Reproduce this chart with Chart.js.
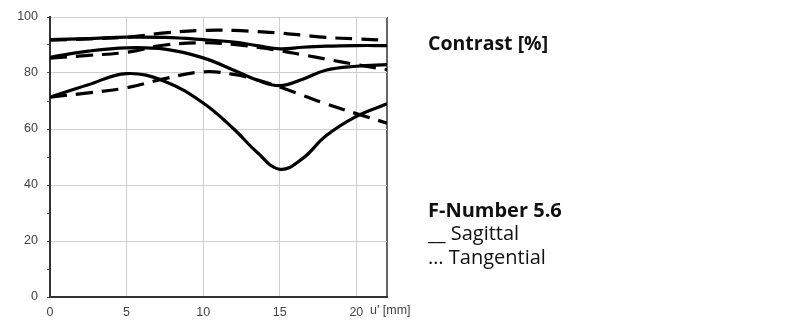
<!DOCTYPE html>
<html>
<head>
<meta charset="utf-8">
<script src="https://cdn.jsdelivr.net/npm/chart.js@4"></script>
<style>
  body { margin: 0; background: #fff; }
  #wrap { position: relative; width: 800px; height: 334px; }
  .txt { position: absolute; font-family: "Open Sans", sans-serif; color: #111; white-space: nowrap; line-height: normal; }
  .b { font-weight: bold; }
</style>
</head>
<body>
<div id="wrap">
  <canvas id="myChart" width="800" height="334"></canvas>
  <div class="txt" style="left:370px;top:303px;font-family:'Liberation Sans',Arial,sans-serif;font-size:12.5px;color:#444;">u' [mm]</div>
  <div class="txt b" style="left:428px;top:29px;font-size:19.5px;">Contrast [%]</div>
  <div class="txt b" style="left:428px;top:196px;font-size:20px;">F-Number 5.6</div>
  <div class="txt" style="left:428px;top:219px;font-size:20px;">__ Sagittal</div>
  <div class="txt" style="left:428px;top:243px;font-size:20px;">… Tangential</div>
</div>
<script>
// datos (u' en mm, contraste en %)
const posiciones = [0, 2.5, 5, 7.5, 10, 12, 13.5, 15, 16.5, 18, 20, 22];

const sagital10 = [91.9, 92.3, 92.8, 92.7, 91.9, 91.0, 89.8, 88.6, 89.2, 89.6, 89.8, 89.8];
const sagital20 = [85.6, 87.8, 89.0, 88.5, 85.4, 81.0, 77.5, 75.5, 77.8, 81.0, 82.4, 83.0];
const sagital40 = [71.4, 75.8, 79.8, 77.0, 69.3, 60.0, 51.8, 45.6, 49.5, 57.5, 64.5, 69.0];

const tangencial10 = [91.7, 92.2, 92.8, 94.3, 95.2, 95.2, 94.8, 94.3, 93.5, 92.7, 92.2, 91.7];
const tangencial20 = [85.3, 86.3, 87.4, 90.0, 90.8, 90.2, 89.2, 88.0, 86.5, 85.0, 83.0, 81.2];
const tangencial40 = [71.4, 72.9, 74.7, 78.0, 80.4, 79.5, 77.6, 75.0, 72.0, 69.0, 65.5, 62.1];

const ticksX = [0, 5, 10, 15, 20];
const ticksY = [0, 20, 40, 60, 80, 100];

function serie(valores, discontinua) {
  return {
    data: valores.map((v, i) => ({ x: posiciones[i], y: v })),
    borderColor: "#000",
    borderWidth: 3.2,
    borderDash: discontinua ? [17, 9] : [],
    pointRadius: 0,
    tension: 0.4,
    fill: false,
  };
}

const ctx = document.getElementById("myChart").getContext("2d");

const chart = new Chart(ctx, {
  type: "line",
  data: {
    datasets: [
      serie(sagital10, false),
      serie(sagital20, false),
      serie(sagital40, false),
      serie(tangencial10, true),
      serie(tangencial20, true),
      serie(tangencial40, true),
    ],
  },
  options: {
    responsive: false,
    animation: false,
    layout: { padding: { top: 17, right: 413, left: 0, bottom: 0 } },
    plugins: { legend: { display: false }, tooltip: { enabled: false } },
    scales: {
      x: {
        type: "linear",
        min: 0,
        max: 22,
        afterBuildTicks: (scale) => {
          scale.ticks = ticksX.concat([22]).map((v) => ({ value: v }));
        },
        afterFit: (scale) => { scale.height = 37; },
        ticks: {
          callback: (v) => (ticksX.includes(v) ? String(v) : ""),
          color: "#444",
          font: { family: "'Liberation Sans', Arial, sans-serif", size: 12.5 },
          padding: 8,
          maxRotation: 0,
        },
        grid: {
          color: (c) => (c.tick && c.tick.value === 22 ? "#666" : "#cfcfcf"),
          lineWidth: (c) => (c.tick && c.tick.value === 22 ? 2 : 1),
          drawTicks: false,
        },
        border: { color: "#333", width: 2 },
      },
      y: {
        min: 0,
        max: 100,
        afterBuildTicks: (scale) => {
          const t = [];
          for (let v = 0; v <= 100; v += 10) t.push({ value: v });
          scale.ticks = t;
        },
        afterFit: (scale) => { scale.width = 50; },
        ticks: {
          callback: (v) => (ticksY.includes(v) ? String(v) : ""),
          color: "#444",
          font: { family: "'Liberation Sans', Arial, sans-serif", size: 12.5 },
          padding: 9,
        },
        grid: {
          color: (c) => (c.tick && c.tick.value % 20 === 0 ? "#cfcfcf" : "rgba(0,0,0,0)"),
          tickColor: "#555",
          tickLength: 3,
        },
        border: { color: "#333", width: 2 },
      },
    },
  },
});
</script>
</body>
</html>
